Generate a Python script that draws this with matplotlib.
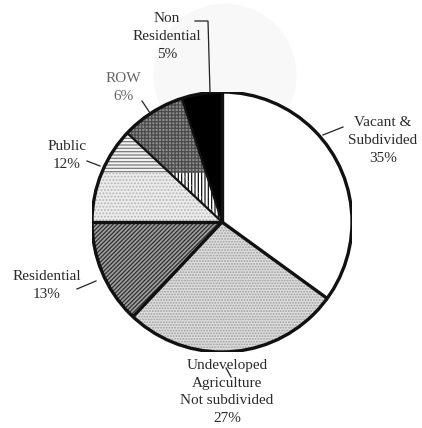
import numpy as np
import matplotlib.pyplot as plt
from matplotlib.patches import Wedge, Rectangle, Circle

# land use shares (%), clockwise from 12 o'clock
categories = ["Vacant & Subdivided", "Undeveloped Agriculture Not subdivided",
              "Residential", "Public", "Other", "ROW", "Non Residential"]
shares = [35, 27, 13, 12, 2, 6, 5]
label_text = ["Vacant &\nSubdivided\n35%",
              "Undeveloped\nAgriculture\nNot subdivided\n27%",
              "Residential\n13%", "Public\n12%", None, "ROW\n6%",
              "Non\nResidential\n5%"]

faces = ['white', '#dedede', '#a0a0a0', '#ececec', 'white', 'white', 'black']
hatches = [None, '......', '////////', '.....', '|||||', '|||||', None]
hatch_col = ['white', '#9e9e9e', '#2e2e2e', '#b4b4b4', '#111111', '#111111', 'black']

plt.rcParams['hatch.linewidth'] = 0.9
plt.rcParams['font.family'] = ['Liberation Serif', 'DejaVu Serif']

fig = plt.figure(figsize=(4.22, 4.28), dpi=100)
ax = fig.add_axes([92/422, 76/428, 260/422, 260/428])

wedges, _ = ax.pie(shares, startangle=90, counterclock=False, radius=1,
                   wedgeprops=dict(linewidth=0))
for w, fc, h, hc in zip(wedges, faces, hatches, hatch_col):
    w.set_facecolor(fc)
    w.set_edgecolor(hc)
    w.set_hatch(h)

# upper band: public gets horizontal stripes, ROW area gets crosshatch
band = Rectangle((-1.2, 0.377), 2.4, 1.0, transform=ax.transData)
overlay_style = {3: ('#f2f2f2', '-----', '#7a7a7a'),
                 4: ('#8e8e8e', '+++++', '#4a4a4a'),
                 5: ('#8e8e8e', '+++++', '#4a4a4a')}
for i, (fc, h, hc) in overlay_style.items():
    w = wedges[i]
    ov = Wedge(w.center, w.r, w.theta1, w.theta2, facecolor=fc,
               edgecolor=hc, hatch=h, linewidth=0, zorder=2)
    ax.add_patch(ov)
    ov.set_clip_path(band)

# outline: rim plus slice boundaries (none between Other and ROW)
ax.add_patch(Circle((0, 0), 1, facecolor='none', edgecolor='#111111',
                    linewidth=2.4, zorder=3))
bounds = 90 - 360 * np.cumsum([0] + shares[:-1]) / sum(shares)
for k, ang in enumerate(bounds):
    if k == 5:
        continue
    lw = 2.4 if k <= 3 else 1.6
    a = np.radians(ang)
    ax.plot([0, np.cos(a)], [0, np.sin(a)], color='#111111',
            linewidth=lw, zorder=3, solid_capstyle='butt')

# faint background disc
ax.add_patch(Circle((0.023, 1.13), 0.55, facecolor='#f8f8f8',
                    edgecolor='none', zorder=-1, clip_on=False))

ax.set_xlim(-1, 1)
ax.set_ylim(-1, 1)
ax.set_aspect('equal')
ax.axis('off')


def px(x, y):
    return ((x - 222) / 130, (222 - y) / 130)


label_pos = [px(383, 141), px(227, 392), px(47, 285), px(67, 156),
             None, px(123, 88), px(167, 36)]
for txt, pos, i in zip(label_text, label_pos, range(len(shares))):
    if txt is None:
        continue
    col = '#666666' if i == 5 else '#2a2a2a'
    ax.text(pos[0], pos[1], txt, ha='center', va='center', fontsize=11,
            color=col, linespacing=1.5, clip_on=False)

leaders = [[(323, 135), (343, 127)],
           [(226, 368), (231, 377)],
           [(77, 289), (96, 281)],
           [(87, 161), (100, 166)],
           [(142, 101), (150, 113)],
           [(195, 21), (208, 21), (210, 92)]]
for pts in leaders:
    xy = [px(*p) for p in pts]
    ax.plot([p[0] for p in xy], [p[1] for p in xy], color='#222222',
            linewidth=0.9, clip_on=False, zorder=4)

fig.savefig('out.png', dpi=100)
